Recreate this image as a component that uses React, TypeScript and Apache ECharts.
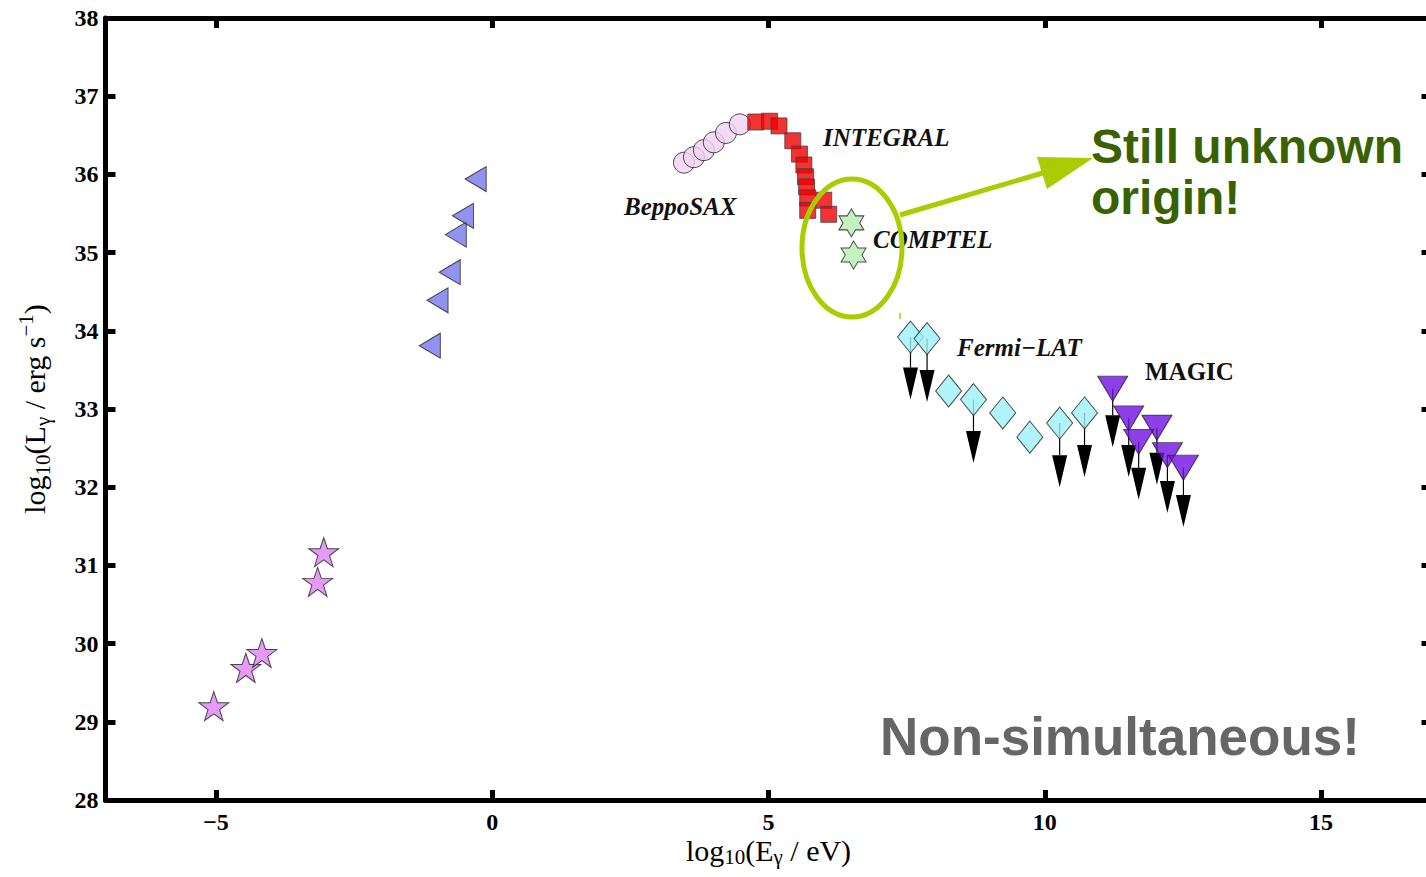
import { useEffect, useRef } from "react";
import * as echarts from "echarts";

// ---- axis setup -------------------------------------------------------------
const xMin = -7;
const xMax = 17;
const xTickValues = [-5, 0, 5, 10, 15];
const yMin = 28;
const yMax = 38;

// ---- measurements: [log10(E/eV), log10(L/erg s^-1)] -------------------------
const radioPoints: [number, number][] = [
  [-5.04, 29.2],
  [-4.46, 29.69],
  [-4.17, 29.88],
  [-3.16, 30.79],
  [-3.05, 31.17],
];

const opticalPoints: [number, number][] = [
  [-1.13, 33.81],
  [-0.99, 34.39],
  [-0.77, 34.75],
  [-0.66, 35.23],
  [-0.53, 35.47],
  [-0.3, 35.94],
];

const beppoSaxPoints: [number, number][] = [
  [3.47, 36.15],
  [3.65, 36.22],
  [3.83, 36.31],
  [4.01, 36.41],
  [4.23, 36.53],
  [4.48, 36.64],
];

const integralPoints: [number, number][] = [
  [4.77, 36.67],
  [5.02, 36.68],
  [5.19, 36.62],
  [5.44, 36.43],
  [5.56, 36.26],
  [5.64, 36.12],
  [5.67, 35.97],
  [5.69, 35.84],
  [5.71, 35.7],
  [6.0, 35.67],
  [5.71, 35.54],
  [6.09, 35.49],
];

const comptelPoints: [number, number][] = [
  [6.5, 35.38],
  [6.54, 34.97],
];

const fermiPoints: [number, number][] = [
  [7.57, 33.92],
  [7.87, 33.9],
  [8.26, 33.23],
  [8.71, 33.12],
  [9.24, 32.95],
  [9.73, 32.64],
  [10.27, 32.82],
  [10.72, 32.95],
];

// upper limits: [x, value at start of arrow, value at arrow tip]
const fermiUpperLimits: [number, number, number][] = [
  [7.57, 33.92, 33.12],
  [7.87, 33.9, 33.09],
  [8.71, 33.12, 32.31],
  [10.27, 32.82, 32.0],
  [10.72, 32.95, 32.13],
];

const magicPoints: [number, number][] = [
  [11.23, 33.26],
  [11.52, 32.88],
  [12.03, 32.76],
  [11.7, 32.58],
  [12.22, 32.41],
  [12.51, 32.25],
];

const magicUpperLimits: [number, number, number][] = [
  [11.23, 33.26, 32.51],
  [11.52, 32.88, 32.13],
  [11.7, 32.58, 31.84],
  [12.03, 32.76, 32.03],
  [12.22, 32.41, 31.67],
  [12.51, 32.25, 31.49],
];

// ---- symbols ----------------------------------------------------------------
const starPath =
  "path://M50,0 L61.8,34.5 L97.6,34.5 L68.5,55.9 L79.4,90.5 L50,69.1 L20.6,90.5 L31.5,55.9 L2.4,34.5 L38.2,34.5 Z";
const hexagramPath =
  "path://M50,0 L64.43,25 L93.3,25 L78.87,50 L93.3,75 L64.43,75 L50,100 L35.57,75 L6.7,75 L21.13,50 L6.7,25 L35.57,25 Z";
const leftTrianglePath = "path://M0,12 L21,0 L21,24 Z";
const downTrianglePath = "path://M0,0 L30,0 L15,25 Z";

const serif = '"Liberation Serif", "Times New Roman", serif';
const sans = '"Liberation Sans", Arial, sans-serif';
const outline = { borderColor: "#222", borderWidth: 1 };

function upperLimitSeries(data: [number, number, number][]) {
  return {
    type: "custom",
    data,
    encode: { x: 0, y: [1, 2] },
    z: 2,
    renderItem: (_params: any, api: any) => {
      const x = api.value(0);
      const from = api.coord([x, api.value(1)]);
      const tip = api.coord([x, api.value(2)]);
      const headH = 32;
      const headW = 15;
      return {
        type: "group",
        children: [
          {
            type: "line",
            shape: { x1: from[0], y1: from[1], x2: tip[0], y2: tip[1] - headH },
            style: { stroke: "#000", lineWidth: 1.2 },
          },
          {
            type: "polygon",
            shape: {
              points: [
                [tip[0] - headW / 2, tip[1] - headH],
                [tip[0] + headW / 2, tip[1] - headH],
                [tip[0], tip[1]],
              ],
            },
            style: { fill: "#000" },
          },
        ],
      };
    },
  };
}

function labelText(x: number, y: number, text: string, italic = true) {
  return {
    type: "text",
    x,
    y,
    z: 50,
    style: {
      text,
      fill: "#111",
      fontFamily: serif,
      fontWeight: "bold",
      fontStyle: italic ? "italic" : "normal",
      fontSize: 25,
      align: "left",
      verticalAlign: "middle",
    },
  };
}

// y-axis title styles
const nameMain = { fontFamily: serif, fontSize: 30, color: "#000", lineHeight: 32 };
const nameSub = { fontFamily: serif, fontSize: 21, color: "#000", lineHeight: 21, padding: [17, 0, 0, 0] };
const nameSup = { fontFamily: serif, fontSize: 21, color: "#000", lineHeight: 21, padding: [0, 0, 17, 0] };
// x-axis title styles (tighter line box)
const xNameMain = { fontFamily: serif, fontSize: 30, color: "#000", lineHeight: 26 };
const xNameSub = { fontFamily: serif, fontSize: 21, color: "#000", lineHeight: 16, padding: [14, 0, 0, 0] };

const frameLine = { show: true, onZero: false, lineStyle: { color: "#000", width: 5 } };
const frameTick = { show: true, inside: true, length: 10, lineStyle: { color: "#000", width: 5 } };

export default function App() {
  const ref = useRef<HTMLDivElement>(null);

  useEffect(() => {
    if (!ref.current) return;
    const chart = echarts.init(ref.current, undefined, { renderer: "svg" });

    const tickLabel = {
      fontFamily: serif,
      fontWeight: "bold" as const,
      fontSize: 24,
      color: "#000",
    };

    chart.setOption({
      animation: false,
      backgroundColor: "#fff",
      grid: {
        left: 105.5,
        right: 8.5,
        top: 18,
        bottom: 77,
        containLabel: false,
        outerBoundsMode: "none",
      },
      xAxis: [
        {
          type: "value",
          min: xMin,
          max: xMax,
          position: "bottom",
          axisLine: frameLine,
          axisTick: { ...frameTick, customValues: xTickValues },
          axisLabel: {
            ...tickLabel,
            lineHeight: 20,
            margin: 12,
            customValues: xTickValues,
            formatter: (v: number) => (v < 0 ? "\u2212" + Math.abs(v) : String(v)),
          },
          splitLine: { show: false },
          name: "{m|log}{s|10}{m|(E}{s|\u03b3}{m| / eV)}",
          nameLocation: "middle",
          nameGap: 37,
          nameMoveOverlap: false,
          nameTextStyle: { rich: { m: xNameMain, s: xNameSub } },
        },
        {
          type: "value",
          min: xMin,
          max: xMax,
          position: "top",
          axisLine: frameLine,
          axisTick: { ...frameTick, customValues: xTickValues },
          axisLabel: { show: false },
          splitLine: { show: false },
        },
      ],
      yAxis: [
        {
          type: "value",
          min: yMin,
          max: yMax,
          interval: 1,
          position: "left",
          axisLine: frameLine,
          axisTick: frameTick,
          axisLabel: { ...tickLabel, margin: 7 },
          splitLine: { show: false },
          name: "{m|log}{s|10}{m|(L}{s|\u03b3}{m| / erg s}{p|\u22121}{m|)}",
          nameLocation: "middle",
          nameGap: 55,
          nameMoveOverlap: false,
          nameTextStyle: { rich: { m: nameMain, s: nameSub, p: nameSup } },
        },
        {
          type: "value",
          min: yMin,
          max: yMax,
          interval: 1,
          position: "right",
          axisLine: frameLine,
          axisTick: frameTick,
          axisLabel: { show: false },
          splitLine: { show: false },
        },
      ],
      series: [
        upperLimitSeries(fermiUpperLimits),
        upperLimitSeries(magicUpperLimits),
        {
          type: "scatter",
          data: radioPoints,
          symbol: starPath,
          symbolSize: [30, 29],
          itemStyle: { color: "#dc82f2", ...outline },
          z: 3,
        },
        {
          type: "scatter",
          data: opticalPoints,
          symbol: leftTrianglePath,
          symbolSize: [21, 25],
          itemStyle: { color: "#7777ee", ...outline },
          z: 3,
        },
        {
          type: "scatter",
          data: beppoSaxPoints,
          symbol: "circle",
          symbolSize: 21,
          itemStyle: { color: "#f1d2f2", ...outline },
          z: 3,
        },
        {
          type: "scatter",
          data: integralPoints,
          symbol: "rect",
          symbolSize: 16,
          itemStyle: { color: "#ee0000", borderColor: "#444", borderWidth: 1 },
          z: 4,
        },
        {
          type: "scatter",
          data: comptelPoints,
          symbol: hexagramPath,
          symbolSize: [25, 28],
          itemStyle: { color: "#b6eeb2", ...outline },
          z: 3,
        },
        {
          type: "scatter",
          data: fermiPoints,
          symbol: "diamond",
          symbolSize: [26, 32],
          itemStyle: { color: "#9cf0f8", ...outline },
          z: 3,
        },
        {
          type: "scatter",
          data: magicPoints,
          symbol: downTrianglePath,
          symbolSize: [30, 25],
          itemStyle: { color: "#7010e2", ...outline },
          z: 3,
        },
      ],
      graphic: [
        labelText(823, 137, "INTEGRAL"),
        labelText(624, 206, "BeppoSAX"),
        labelText(873, 239, "COMPTEL"),
        labelText(957, 347, "Fermi\u2212LAT"),
        labelText(1145, 371, "MAGIC", false),
        {
          type: "ellipse",
          z: 60,
          shape: { cx: 852, cy: 248, rx: 50, ry: 69 },
          style: { fill: "none", stroke: "#aacc00", lineWidth: 5 },
        },
        {
          type: "line",
          z: 60,
          shape: { x1: 900, y1: 215, x2: 1046, y2: 172 },
          style: { stroke: "#aacc00", lineWidth: 5 },
        },
        {
          type: "polygon",
          z: 60,
          shape: { points: [[1037, 157], [1093, 158], [1047, 189]] },
          style: { fill: "#aacc00" },
        },
        {
          type: "line",
          z: 60,
          shape: { x1: 900, y1: 313, x2: 900, y2: 319 },
          style: { stroke: "#aacc00", lineWidth: 1.5 },
        },
        {
          type: "text",
          z: 60,
          x: 1091,
          y: 146,
          style: {
            text: "Still unknown",
            fill: "#3a6100",
            fontFamily: sans,
            fontWeight: "bold",
            fontSize: 48,
            align: "left",
            verticalAlign: "middle",
          },
        },
        {
          type: "text",
          z: 60,
          x: 1091,
          y: 197,
          style: {
            text: "origin!",
            fill: "#3a6100",
            fontFamily: sans,
            fontWeight: "bold",
            fontSize: 48,
            align: "left",
            verticalAlign: "middle",
          },
        },
        {
          type: "text",
          z: 60,
          x: 880,
          y: 736,
          style: {
            text: "Non-simultaneous!",
            fill: "#666666",
            fontFamily: sans,
            fontWeight: "bold",
            fontSize: 53,
            align: "left",
            verticalAlign: "middle",
          },
        },
      ],
    });

    return () => chart.dispose();
  }, []);

  return (
    <div style={{ position: "fixed", left: 0, top: 0, right: 0, bottom: 0, overflow: "hidden", background: "#fff" }}>
      <div ref={ref} style={{ width: 1440, height: 877 }} />
    </div>
  );
}
